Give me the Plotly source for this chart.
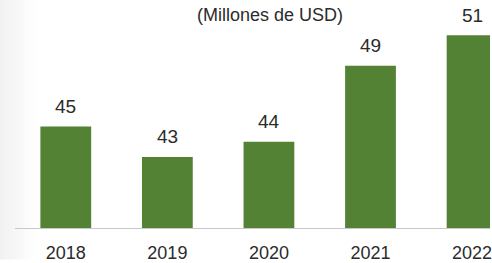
import plotly.graph_objects as go

years = ["2018", "2019", "2020", "2021", "2022"]
values = [45, 43, 44, 49, 51]
value_labels = ["45", "43", "44", "49", "51"]
subtitle = "(Millones de USD)"

W, H = 492, 263
ml, mt, mb = 15, 0, 32
plot_w = W - ml
band = 102.0
TXT = "#2b2b2b"
FONT = "Liberation Sans, Arial"

fig = go.Figure()
fig.add_trace(go.Bar(
    x=years, y=values, marker=dict(color="#548235", line=dict(width=0)),
    hoverinfo="skip",
))

for i, (v, t) in enumerate(zip(values, value_labels)):
    fig.add_annotation(x=i, y=v, xref="x", yref="y", text=t, showarrow=False,
                       xanchor="center", yanchor="middle", yshift=20,
                       font=dict(family=FONT, size=19, color=TXT))

fig.add_annotation(xref="paper", yref="paper", x=(271 - ml) / plot_w, y=1 - 15 / (H - mt - mb),
                   text=subtitle, showarrow=False, xanchor="center", yanchor="middle",
                   font=dict(family=FONT, size=18, color=TXT))

# light shading at the left edge
shapes = []
n = 12
for i in range(n):
    x0 = (-ml + i * 3) / plot_w
    x1 = (-ml + (i + 1) * 3) / plot_w
    a = 0.10 * (1 - i / n)
    shapes.append(dict(type="rect", xref="paper", yref="paper", x0=x0, x1=x1, y0=-mb / (H - mb), y1=1,
                       fillcolor=f"rgba(120,120,120,{a:.3f})", line=dict(width=0), layer="below"))

fig.update_layout(
    shapes=shapes,
    width=W, height=H,
    margin=dict(l=ml, r=0, t=mt, b=mb, pad=0),
    paper_bgcolor="white", plot_bgcolor="white",
    bargap=0.5, showlegend=False,
    xaxis=dict(type="category", range=[-0.5, -0.5 + plot_w / band], showline=True, linecolor="#c8c8c8",
               linewidth=1, ticks="outside", ticklen=8, tickcolor="rgba(0,0,0,0)",
               tickfont=dict(family=FONT, size=18, color=TXT),
               showgrid=False, zeroline=False, fixedrange=True),
    yaxis=dict(range=[38.33, 38.33 + 231 / 15.41], showticklabels=False, showline=False,
               ticks="", showgrid=False, zeroline=False, fixedrange=True),
)

fig.write_html("out.html", config={"displayModeBar": False},
               post_script="document.body.style.margin='0';document.body.style.overflow='hidden';")
